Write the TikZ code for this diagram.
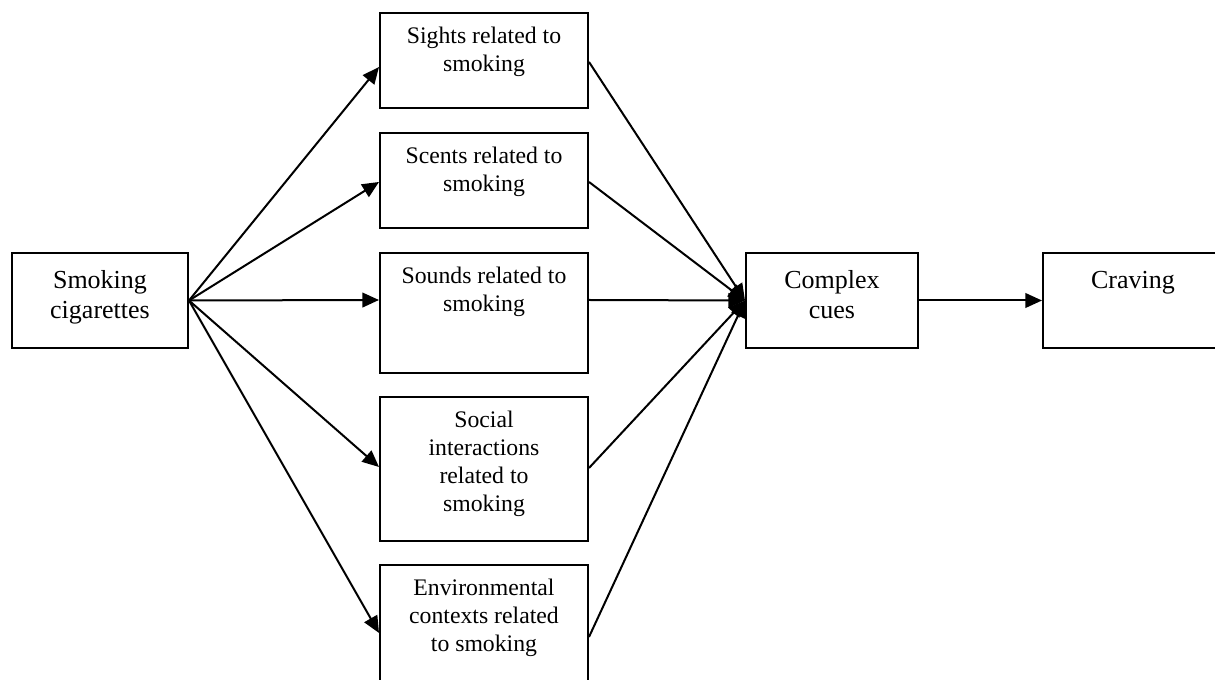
\documentclass[tikz,border=0pt]{standalone}
\usepackage{fontspec}
\setmainfont{Liberation Serif}
\usetikzlibrary{arrows.meta,positioning}

\tikzset{
  box/.style={draw, line width=1.5pt, inner sep=0pt, minimum height=71.25pt},
  midbox/.style={box, minimum width=156pt},
  smalltxt/.style={anchor=north, inner sep=0pt, align=center, font=\fontsize{17.8}{21}\selectfont, yshift=-11pt},
  bigtxt/.style={anchor=north, inner sep=0pt, align=center, font=\fontsize{19.5}{22.5}\selectfont, yshift=-14pt},
  link/.style={line width=1.5pt, -{Triangle[length=12.5pt,width=11pt]}}
}

\begin{document}
\begin{tikzpicture}[x=0.75pt, y=-0.75pt]
\useasboundingbox (0,0) rectangle (1215,680);
\clip (0,0) rectangle (1215,680);

% Source box
\node[box, minimum width=132pt] (smoking) at (100,300.5) {};
\node[bigtxt] (smoking-txt) at (smoking.north) {Smoking\\cigarettes};

% Cue boxes
\node[midbox] (sights) at (484,60.5) {};
\node[smalltxt] (sights-txt) at (sights.north) {Sights related to\\smoking};
\node[midbox] (scents) at (484,180.5) {};
\node[smalltxt] (scents-txt) at (scents.north) {Scents related to\\smoking};
\node[midbox, minimum height=90pt] (sounds) at (484,313) {};
\node[smalltxt] (sounds-txt) at (sounds.north) {Sounds related to\\smoking};
\node[midbox, minimum height=108pt] (social) at (484,469) {};
\node[smalltxt] (social-txt) at (social.north) {Social\\interactions\\related to\\smoking};
\node[midbox, minimum height=93.75pt] (env) at (484,627.5) {};
\node[smalltxt] (env-txt) at (env.north) {Environmental\\contexts related\\to smoking};

% Outcome boxes
\node[box, minimum width=129pt] (complex) at (832,300.5) {};
\node[bigtxt] (complex-txt) at (complex.north) {Complex\\cues};
\node[box, minimum width=135pt] (craving) at (1133,300.5) {};
\node[bigtxt] (craving-txt) at (craving.north) {Craving};

% Arrows out of the source
\draw[link] (smoking.east) -- ([yshift=-4.9pt]sights.west);
\draw[link] (smoking.east) -- ([yshift=-1.1pt]scents.west);
\draw[link] (smoking.east) -- ([yshift=9.75pt]sounds.west);
\draw[link] (smoking.east) -- ([yshift=1.5pt]social.west);
\draw[link] (smoking.east) -- ([yshift=-4.1pt]env.west);

% Arrows into complex cues
\draw[link] ([yshift=-1.1pt]sights.east) -- (complex.west);
\draw[link] ([yshift=-1.1pt]scents.east) -- (complex.west);
\draw[link] ([yshift=9.75pt]sounds.east) -- (complex.west);
\draw[link] ([yshift=0.75pt]social.east) -- (complex.west);
\draw[link] ([yshift=-7.1pt]env.east) -- (complex.west);

\draw[link] (complex.east) -- (craving.west);
\end{tikzpicture}
\end{document}
